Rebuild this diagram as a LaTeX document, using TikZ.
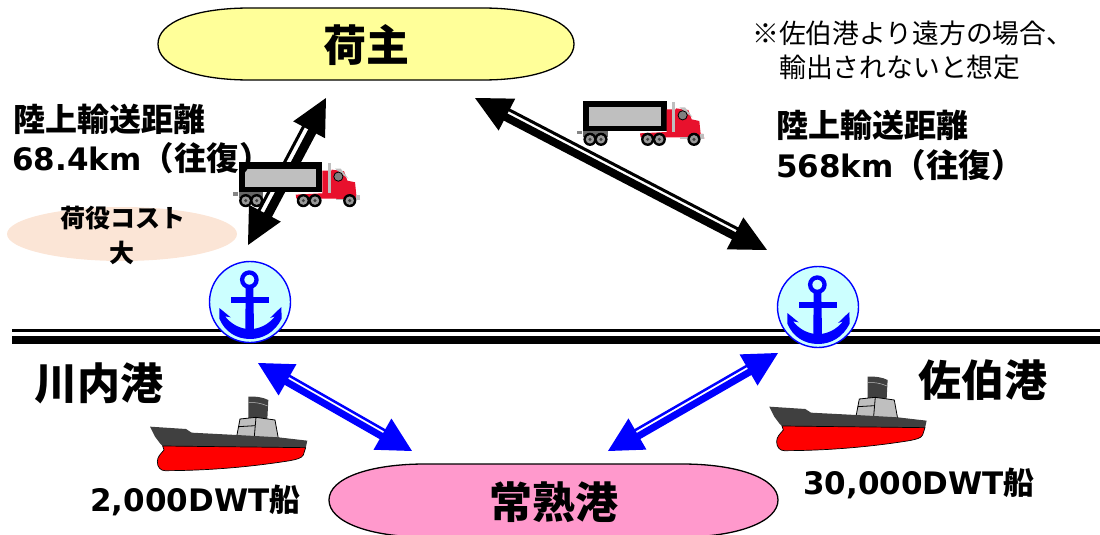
\documentclass[tikz,border=0pt]{standalone}
\usepackage{fontspec}
\setmainfont{DejaVu Sans}
\newfontfamily\cjkf{Noto Sans CJK JP}
\definecolor{yel}{HTML}{FFFF99}
\definecolor{pnk}{HTML}{FF99CC}
\definecolor{pale}{HTML}{FBE5D6}
\definecolor{cya}{HTML}{CCFFFF}
\definecolor{dk}{HTML}{404040}
\definecolor{gr}{HTML}{BFBFBF}
\definecolor{tr}{HTML}{E8112D}
\newcommand{\fsz}[1]{\fontsize{#1pt}{#1pt}\selectfont}
\newcommand{\dblarrow}[8]{%
  \pgfpointdiff{\pgfpointanchor{#1}{center}}{\pgfpointanchor{#2}{center}}%
  \pgfgetlastxy\dxv\dyv
  \pgfmathsetmacro\ang{atan2(\dyv,\dxv)}%
  \pgfmathsetmacro\len{veclen(\dxv,\dyv)}%
  \pgfmathsetmacro\tot{#6+#7+#8}%
  \begin{scope}[shift={(#1)},rotate=\ang,x=1pt,y=1pt]
    \fill[#3] (0,0) -- (#5,#4/2) -- (#5,-#4/2) -- cycle;
    \fill[#3] (\len,0) -- (\len-#5,#4/2) -- (\len-#5,-#4/2) -- cycle;
    \fill[#3] (#5-1,-\tot/2) rectangle (\len-#5+1,-\tot/2+#6);
    \fill[#3] (#5-1,\tot/2-#8) rectangle (\len-#5+1,\tot/2);
  \end{scope}}
\tikzset{
  bigtext/.style={inner sep=0pt,font=\bfseries\cjkf\fsz{43}},
  midtext/.style={inner sep=0pt,anchor=west,font=\bfseries\fsz{31}},
  shiptext/.style={inner sep=0pt,anchor=west,font=\bfseries\fsz{31}},
  notetext/.style={inner sep=0pt,anchor=west,font=\cjkf\fsz{26.8}},
  costtext/.style={inner sep=0pt,font=\bfseries\cjkf\fsz{25}},
  hub/.style={circle,draw=blue,fill=cya,line width=1.4pt,minimum size=81pt,inner sep=0pt},
  anchorpic/.pic={
    \begin{scope}[x=.3333pt,y=-.3333pt]
      \draw[blue,line width=4.3pt] (-2,-67) circle (7.2pt);
      \fill[blue] (-13,-47) -- (10,-47) -- (12,85) -- (-14,85) -- cycle;
      \fill[blue] (-57,-15) rectangle (57,3);
      \fill[blue] (-92,18) -- (-58,46) -- (-75,43) .. controls (-55,68) and (-30,80) .. (0,82)
        .. controls (30,80) and (55,68) .. (75,43) -- (60,48) -- (94,15) -- (95,50)
        .. controls (75,90) and (40,111) .. (0,111) .. controls (-40,111) and (-75,90) .. (-92,50) -- cycle;
    \end{scope}},
  truckpic/.pic={
    \begin{scope}[x=.3333pt,y=-.3333pt]
      \fill[gr!70!black] (22,123) rectangle (36,133);
      \fill[gray!80!black] (40,122) rectangle (113,140);
      \fill[black] (40,32) rectangle (290,122);
      \fill[gr] (58,52) rectangle (272,108);
      \fill[tr] (210,130) -- (290,126) -- (290,58) -- (318,58) -- (318,55) -- (355,60) -- (365,88)
        -- (388,93) -- (392,132) -- (400,132) -- (403,146) -- (355,146) -- (330,142) -- (212,142) -- cycle;
      \fill[gr] (306,35) rectangle (315,125);
      \fill[gr] (330,142) rectangle (355,147);
      \fill[gr] (390,132) rectangle (403,147);
      \fill[gr] (328,52) -- (345,52) -- (368,82) -- (350,70) -- cycle;
      \draw[black,fill=gray,line width=.8pt] (338,76) circle (4.6pt);
      \foreach \wx in {60,93,233,268,372}{
        \fill[black] (\wx,148) circle (6.6pt);
        \fill[gr!80!black] (\wx,148) circle (4.2pt);
        \fill[dk] (\wx,148) circle (1.7pt);
      }
    \end{scope}},
  shippic/.pic={
    \begin{scope}[x=.3333pt,y=-.3333pt]
      \fill[dk] (325,50) .. controls (345,48) and (370,52) .. (385,60) -- (382,118) -- (325,118) -- cycle;
      \draw[gr,line width=.5pt] (326,68) .. controls (345,66) and (365,70) .. (383,78);
      \draw[black,fill=gr,line width=.8pt] (300,117) -- (348,112) -- (405,120) -- (415,175) -- (290,170) -- cycle;
      \draw[black,line width=.8pt] (348,112) -- (343,170) (296,140) -- (346,137);
      \fill[dk] (30,140) -- (138,147) -- (155,158) -- (290,165) -- (345,168) -- (415,172) -- (502,182)
        -- (497,205) -- (70,200) -- (60,190) -- (45,170) -- cycle;
      \draw[black,fill=red,line width=.7pt] (68,198) -- (497,203) -- (490,225) .. controls (485,235) and (470,238) .. (450,242)
        .. controls (350,258) and (220,272) .. (75,272) .. controls (62,272) and (52,262) .. (52,245)
        .. controls (52,230) and (62,222) .. (72,210) -- cycle;
    \end{scope}}
}
\begin{document}
\begin{tikzpicture}[x=1pt,y=-1pt]
\useasboundingbox (0,0) rectangle (1100,535);
% road
\fill[black] (12,329) rectangle (1100,332);
\fill[black] (12,336) rectangle (1100,344);
% soft ellipse
\fill[pale] (122,234) ellipse [x radius=115pt,y radius=27pt];
% boxes
\draw[black,fill=yel,line width=1.3pt] (158,44) .. controls (158,22) and (195,8) .. (250,8) -- (482,8)
  .. controls (537,8) and (574,22) .. (574,44) .. controls (574,66) and (537,80) .. (482,80) -- (250,80)
  .. controls (195,80) and (158,66) .. (158,44) -- cycle;
\draw[black,fill=pnk,line width=1.3pt] (329,500) .. controls (329,478) and (370,464) .. (425,464) -- (682,464)
  .. controls (737,464) and (778,478) .. (778,500) .. controls (778,522) and (737,537) .. (682,537) -- (425,537)
  .. controls (370,537) and (329,522) .. (329,500) -- cycle;
\node[bigtext] (shipper) at (366,45) {荷主};
\node[bigtext] (jpt) at (554,502) {常熟港};
% hubs
\node[hub] (hubL) at (250,302) {};
\node[hub] (hubR) at (818,307) {};
\pic at (hubL) {anchorpic};
\pic at (hubR) {anchorpic};
% arrow ends
\coordinate (a1) at (248,245);
\coordinate (a2) at (326,98);
\coordinate (b1) at (475,98);
\coordinate (b2) at (767,250);
\coordinate (c1) at (258,363);
\coordinate (c2) at (412,451);
\coordinate (d1) at (608,451);
\coordinate (d2) at (778,353);
\dblarrow{a1}{a2}{black}{36}{36}{9}{4}{3}
\dblarrow{b1}{b2}{black}{36}{36}{8}{2.5}{3}
\dblarrow{c1}{c2}{blue}{36}{34}{7}{2}{2.5}
\dblarrow{d1}{d2}{blue}{36}{34}{7}{2}{2.5}
% trucks
\pic at (225.7,151.3) {truckpic};
\pic at (570,90) {truckpic};
% ships
\pic at (140,380) {shippic};
\pic at (759.3,360) {shippic};
% texts
\node[midtext] (distLa) at (13,119) {\cjkf\fsz{32}陸上輸送距離};
\node[midtext] (distLb) at (12,158) {68.4km{\cjkf\fsz{32.5}（往復）}};
\node[midtext] (distRa) at (776,125) {\cjkf\fsz{32}陸上輸送距離};
\node[midtext] (distRb) at (776,165) {568km{\cjkf\fsz{32.5}（往復）}};
\node[notetext] (noteA) at (752,33) {※佐伯港より遠方の場合、};
\node[notetext] (noteB) at (779,67) {輸出されないと想定};
\node[costtext] (costA) at (123,218) {荷役コスト};
\node[costtext] (costB) at (122,253) {大};
\node[bigtext] (portL) at (99,383) {川内港};
\node[bigtext] (portR) at (983,380) {佐伯港};
\node[shiptext] (shipL) at (90,500) {2,000DWT{\cjkf 船}};
\node[shiptext] (shipR) at (803,483) {30,000DWT{\cjkf 船}};
\end{tikzpicture}
\end{document}
